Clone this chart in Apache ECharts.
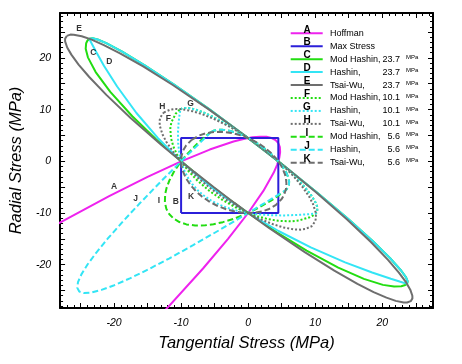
<!DOCTYPE html>
<html><head><meta charset="utf-8">
<script src="https://cdn.jsdelivr.net/npm/echarts@6/dist/echarts.min.js"></script>
<style>html,body{margin:0;padding:0;background:#fff}#c{width:462px;height:364px}</style>
</head><body><div id="c"></div>
<script>
// ---- data ----
const xTickLabels = [-20, -10, 0, 10, 20];
const yTickLabels = [-20, -10, 0, 10, 20];

const hoffman = [[-30.68,-13.68],[-20.73,-6.73],[-15,-3],[-10,0],[-5.73,2.27],[-2.18,3.82],[-0.68,4.32],[0.64,4.64],[1.77,4.77],[2.73,4.73],[3.5,4.5],[4.09,4.09],[4.5,3.5],[4.73,2.73],[4.77,1.77],[4.64,0.64],[4.32,-0.68],[3.82,-2.18],[2.27,-5.73],[0,-10],[-3,-15],[-6.73,-20.73],[-13.68,-30.68]];
const maxStress = [[-10,-10],[4.5,-10],[4.5,4.5],[-10,4.5],[-10,-10]];

const hashinTension237 = [[-23.7,23.7],[-23.21,23.79],[-22.45,23.55],[-21.16,22.84],[-18.79,21.21],[-15.43,18.57],[-11.11,14.89],[-5.87,10.13],[-0.76,5.24],[2.26,2.26],[5.24,-0.76],[10.13,-5.87],[14.89,-11.11],[18.57,-15.43],[21.21,-18.79],[22.84,-21.16],[23.55,-22.45],[23.79,-23.21],[23.7,-23.7]];
const modHashinComp237 = [[23.32,-23.98],[22.84,-24.16],[21.77,-24.23],[20.10,-23.90],[17.26,-22.74],[13.44,-20.56],[8.72,-17.28],[4.27,-13.73],[0,-10],[-3.10,-7.10],[-5.12,-5.12],[-7.10,-3.10],[-10,0],[-13.73,4.27],[-17.28,8.72],[-20.56,13.44],[-22.74,17.26],[-23.90,20.10],[-24.23,21.77],[-24.16,22.84],[-23.98,23.32],[-23.7,23.7]];
const hashinComp237 = [[23.41,-23.59],[22.70,-23.30],[21.28,-22.72],[18.49,-21.51],[14.46,-19.54],[9.34,-16.66],[4.52,-13.48],[0,-10],[-3.20,-7.20],[-5.23,-5.23],[-7.20,-3.20],[-10,0],[-13.48,4.52],[-16.66,9.34],[-19.54,14.46],[-21.51,18.49],[-22.72,21.28],[-23.30,22.70],[-23.59,23.41],[-23.7,23.7]];
const tsaiWu237 = [[-27.05,24.25],[-26.51,24.50],[-26.01,24.49],[-24.82,24.18],[-23.43,23.57],[-21.52,22.48],[-19.11,20.89],[-15.66,18.34],[-11.24,14.76],[-5.92,10.08],[-0.76,5.24],[2.26,2.26],[5.24,-0.76],[10.08,-5.92],[14.76,-11.24],[18.34,-15.66],[20.89,-19.11],[22.48,-21.52],[23.57,-23.43],[24.18,-24.82],[24.49,-26.01],[24.50,-26.51],[24.25,-27.05],[23.70,-27.30],[23.20,-27.30],[22.01,-26.99],[20.63,-26.37],[18.71,-25.29],[16.30,-23.70],[12.85,-21.15],[8.44,-17.57],[3.11,-12.89],[0,-10],[-2.05,-8.05],[-5.07,-5.07],[-8.05,-2.05],[-10,0],[-12.89,3.11],[-17.57,8.44],[-21.15,12.85],[-23.70,16.30],[-25.29,18.71],[-26.37,20.63],[-26.99,22.01],[-27.30,23.20],[-27.30,23.70],[-27.05,24.25]];

const hashinTension101 = [[-10.1,10.1],[-9.68,10.32],[-8.72,10.28],[-7.95,10.05],[-6.59,9.41],[-5.34,8.66],[-4.14,7.86],[-2.43,6.57],[-0.80,5.20],[0.78,3.78],[2.31,2.31],[3.78,0.78],[5.20,-0.80],[6.57,-2.43],[7.86,-4.14],[8.66,-5.34],[9.41,-6.59],[10.05,-7.95],[10.28,-8.72],[10.32,-9.68],[10.1,-10.1]];
const modHashinComp101 = [[9.67,-10.48],[9.19,-10.81],[7.55,-11.45],[6.39,-11.61],[4.49,-11.51],[2.85,-11.15],[1.37,-10.63],[0,-10],[-1.90,-8.90],[-3.64,-7.64],[-5.76,-5.76],[-7.64,-3.64],[-8.90,-1.90],[-10,0],[-10.63,1.37],[-11.15,2.85],[-11.51,4.49],[-11.61,6.39],[-11.45,7.55],[-10.81,9.19],[-10.48,9.67],[-10.1,10.1]];
const hashinComp101 = [[9.87,-10.13],[8.74,-10.26],[7.64,-10.36],[5.53,-10.47],[3.56,-10.44],[1.71,-10.29],[0,-10],[-1.59,-9.59],[-3.04,-9.04],[-4.36,-8.36],[-5.56,-7.56],[-6.62,-6.62],[-7.56,-5.56],[-8.36,-4.36],[-9.04,-3.04],[-9.59,-1.59],[-10,0],[-10.29,1.71],[-10.44,3.56],[-10.47,5.53],[-10.36,7.64],[-10.26,8.74],[-10.13,9.87],[-10.1,10.1]];
const tsaiWu101 = [[-12.56,9.47],[-11.59,10.01],[-10.88,10.12],[-9.92,10.08],[-8.31,9.69],[-6.88,9.12],[-4.92,8.08],[-3.09,6.91],[-1.93,6.07],[0.27,4.27],[2.33,2.33],[4.27,0.27],[6.07,-1.93],[6.91,-3.09],[8.08,-4.92],[9.12,-6.88],[9.69,-8.31],[10.08,-9.92],[10.12,-10.88],[10.01,-11.59],[9.47,-12.56],[8.50,-13.10],[7.79,-13.22],[6.83,-13.17],[5.22,-12.78],[3.79,-12.21],[1.83,-11.18],[0,-10],[-1.16,-9.16],[-3.36,-7.36],[-5.42,-5.42],[-7.36,-3.36],[-9.16,-1.16],[-10,0],[-11.18,1.83],[-12.21,3.79],[-12.78,5.22],[-13.17,6.83],[-13.22,7.79],[-13.10,8.50],[-12.56,9.47]];

const hashinTension56 = [[-5.6,5.6],[-5.34,5.81],[-5.04,5.96],[-4.51,6.09],[-3.89,6.11],[-3.04,5.96],[-2.28,5.72],[-0.93,5.08],[0.30,4.30],[1.42,3.42],[2.46,2.46],[3.42,1.42],[4.30,0.30],[5.08,-0.93],[5.72,-2.28],[5.96,-3.04],[6.11,-3.89],[6.09,-4.51],[5.96,-5.04],[5.81,-5.34],[5.6,-5.6]];
const modHashinComp56 = [[5.27,-5.93],[4.93,-6.26],[4.07,-7.03],[3.41,-7.59],[1.39,-9.11],[0,-10],[-2.11,-11.11],[-3.77,-11.77],[-5.17,-12.17],[-6.38,-12.38],[-7.92,-12.42],[-9.20,-12.20],[-10.25,-11.75],[-11.10,-11.10],[-11.75,-10.25],[-12.20,-9.20],[-12.42,-7.92],[-12.38,-6.38],[-12.17,-5.17],[-11.77,-3.77],[-11.11,-2.11],[-10,0],[-9.11,1.39],[-7.59,3.41],[-7.03,4.07],[-6.26,4.93],[-5.93,5.27],[-5.6,5.6]];
const hashinComp56 = [[4.74,-6.26],[2.32,-8.18],[0,-10],[-4.34,-13.34],[-8.27,-16.27],[-11.80,-18.80],[-14.92,-20.92],[-17.64,-22.64],[-19.96,-23.96],[-21.87,-24.87],[-23.38,-25.38],[-24.48,-25.48],[-25.19,-25.19],[-25.48,-24.48],[-25.38,-23.38],[-24.87,-21.87],[-23.96,-19.96],[-22.64,-17.64],[-20.92,-14.92],[-18.80,-11.80],[-16.27,-8.27],[-13.34,-4.34],[-10,0],[-8.18,2.32],[-6.26,4.74],[-5.6,5.6]];
const tsaiWu56 = [[-8.43,4.15],[-7.30,5.00],[-6.41,5.39],[-5.36,5.64],[-4.29,5.71],[-3.36,5.64],[-2.51,5.49],[-1.01,4.99],[0.32,4.32],[1.50,3.50],[2.56,2.56],[3.50,1.50],[4.32,0.32],[4.99,-1.01],[5.49,-2.51],[5.64,-3.36],[5.71,-4.29],[5.64,-5.36],[5.39,-6.41],[5.00,-7.30],[4.15,-8.43],[3.02,-9.28],[2.12,-9.68],[1.07,-9.93],[0,-10],[-0.93,-9.93],[-1.78,-9.78],[-3.28,-9.28],[-4.60,-8.60],[-5.79,-7.79],[-6.85,-6.85],[-7.79,-5.79],[-8.60,-4.60],[-9.28,-3.28],[-9.78,-1.78],[-9.93,-0.93],[-10,0],[-9.93,1.07],[-9.68,2.12],[-9.28,3.02],[-8.43,4.15]];

const curveLabels = [[-20.0,-5.0,'A'],[-10.8,-7.8,'B'],[-23.1,21.0,'C'],[-20.7,19.2,'D'],[-25.2,25.7,'E'],[-11.9,8.3,'F'],[-8.6,11.2,'G'],[-12.8,10.6,'H'],[-13.3,-7.6,'I'],[-16.8,-7.2,'J'],[-8.5,-6.85,'K']];

const legendLetters = ['A','B','C','D','E','F','G','H','I','J','K'];
const legendNames = ['Hoffman','Max Stress','Mod Hashin,','Hashin,','Tsai-Wu,','Mod Hashin,','Hashin,','Tsai-Wu,','Mod Hashin,','Hashin,','Tsai-Wu,'];
const legendValues = ['','','23.7','23.7','23.7','10.1','10.1','10.1','5.6','5.6','5.6'];

// ---- styling ----
const MAG='#ee22ee', BLUE='#2b1fd9', GREEN='#22dd11', CYAN='#33e5f5', GRAY='#6e6e6e';
const DOT=[2,2], DASH=[6,3];
const curves = [
  {data: hoffman, color: MAG, type:'solid'},
  {data: maxStress, color: BLUE, type:'solid'},
  {data: hashinTension237.concat(modHashinComp237), color: GREEN, type:'solid'},
  {data: hashinTension237.concat(hashinComp237), color: CYAN, type:'solid'},
  {data: tsaiWu237, color: GRAY, type:'solid'},
  {data: hashinTension101.concat(modHashinComp101), color: GREEN, type: DOT},
  {data: hashinTension101.concat(hashinComp101), color: CYAN, type: DOT},
  {data: tsaiWu101, color: GRAY, type: DOT},
  {data: hashinTension56.concat(modHashinComp56), color: GREEN, type: DASH},
  {data: hashinTension56.concat(hashinComp56), color: CYAN, type: DASH},
  {data: tsaiWu56, color: GRAY, type: DASH}
];

const XMIN=-28.05, XMAX=27.57, YMIN=-28.37, YMAX=28.68;
const FONT='Liberation Sans, Arial, sans-serif';
const majorX=[], minorX=[], majorY=[], minorY=[];
for (let v=-28; v<=28; v++) {
  if (v>=XMIN && v<=XMAX) { (v%5===0?majorX:minorX).push(v); }
  if (v>=YMIN && v<=YMAX) { (v%5===0?majorY:minorY).push(v); }
}

function xAx(pos, ticks, len, labels, line) {
  return {type:'value', min:XMIN, max:XMAX, position:pos, offset:0,
    axisLine:{show:line, onZero:false, lineStyle:{color:'#000', width:2}},
    axisTick:{show:true, inside:true, length:len, customValues:ticks, lineStyle:{color:'#000', width:1}},
    axisLabel:{show:!!labels, customValues:labels||[], margin:10, fontFamily:FONT, fontStyle:'italic', fontSize:10.5, color:'#000'},
    splitLine:{show:false}};
}
function yAx(pos, ticks, len, labels, line) {
  return {type:'value', min:YMIN, max:YMAX, position:pos, offset:0,
    axisLine:{show:line, onZero:false, lineStyle:{color:'#000', width:2}},
    axisTick:{show:true, inside:true, length:len, customValues:ticks, lineStyle:{color:'#000', width:1}},
    axisLabel:{show:!!labels, customValues:labels||[], margin:9, fontFamily:FONT, fontStyle:'italic', fontSize:10.5, color:'#000'},
    splitLine:{show:false}};
}
const xAxes=[xAx('bottom',majorX,5,xTickLabels,true), xAx('bottom',minorX,3,null,false), xAx('top',majorX,5,null,true), xAx('top',minorX,3,null,false)];
const yAxes=[yAx('left',majorY,5,yTickLabels,true), yAx('left',minorY,3,null,false), yAx('right',majorY,5,null,true), yAx('right',minorY,3,null,false)];
xAxes[0].name='Tangential Stress (MPa)'; xAxes[0].nameLocation='middle'; xAxes[0].nameGap=27;
xAxes[0].nameTextStyle={fontFamily:FONT, fontStyle:'italic', fontSize:16.5, color:'#000'};
yAxes[0].name='Radial Stress (MPa)'; yAxes[0].nameLocation='middle'; yAxes[0].nameGap=27;
yAxes[0].nameTextStyle={fontFamily:FONT, fontStyle:'italic', fontSize:16.5, color:'#000'};

const series = curves.map(c => ({type:'line', data:c.data, showSymbol:false, symbol:'none', smooth:false, clip:true,
  lineStyle:{color:c.color, width:2, type:c.type}, animation:false, z:3}));
series.push({type:'scatter', data:curveLabels, symbolSize:0, z:5, animation:false,
  label:{show:true, position:'inside', formatter:p=>p.data[2], fontFamily:FONT, fontWeight:'bold', fontSize:8.5, color:'#000'}});

// legend drawn as graphic
const graphic=[];
const LX1=290.7, LX2=322.7, LY0=33.3, LDY=12.94;
curves.forEach((c,i)=>{
  const y=LY0+i*LDY;
  graphic.push({type:'line', shape:{x1:LX1,y1:y,x2:LX2,y2:y}, style:{stroke:c.color, lineWidth:2, lineDash: c.type==='solid'?null:c.type}, z:10});
  graphic.push({type:'text', x:307, y:y-3.5, style:{text:legendLetters[i], font:'bold 10px '+FONT, fill:'#000', textAlign:'center', textVerticalAlign:'middle'}, z:11});
  graphic.push({type:'text', x:330, y:y, style:{text:legendNames[i], font:'9px '+FONT, fill:'#000', textAlign:'left', textVerticalAlign:'middle'}, z:11});
  if (legendValues[i]) {
    graphic.push({type:'text', x:400, y:y, style:{text:legendValues[i], font:'9px '+FONT, fill:'#000', textAlign:'right', textVerticalAlign:'middle'}, z:11});
    graphic.push({type:'text', x:406, y:y-2, style:{text:'MPa', font:'6px '+FONT, fill:'#000', textAlign:'left', textVerticalAlign:'middle'}, z:11});
  }
});

const chart = echarts.init(document.getElementById('c'), null, {renderer:'canvas'});
chart.setOption({
  animation:false, backgroundColor:'#fff',
  grid:{left:57, right:29, top:13, bottom:56, containLabel:false},
  xAxis:xAxes, yAxis:yAxes, series:series, graphic:graphic
});
</script></body></html>
